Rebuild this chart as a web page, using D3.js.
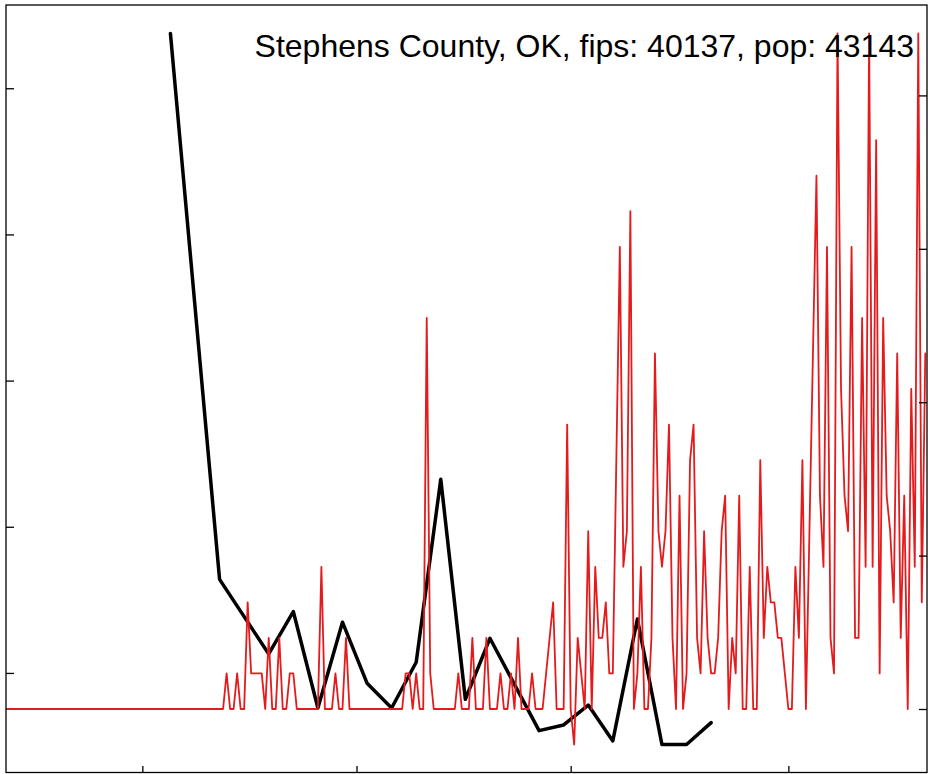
<!DOCTYPE html>
<html>
<head>
<meta charset="utf-8">
<script src="https://cdn.jsdelivr.net/npm/d3@7"></script>
<style>
  html, body { margin: 0; padding: 0; background: #fff; }
  svg { display: block; }
</style>
</head>
<body>
<svg id="chart" width="928" height="774"></svg>
<script>
// ---------------- data ----------------
const titleText = "Stephens County, OK, fips: 40137, pop: 43143";
const population = 43143;
const dailyStart = "2020-01-22";
// daily new cases, one per day starting 2020-01-22
const dailyCases = [
  0,0,0,0,0,0,0,0,0,0, 0,0,0,0,0,0,0,0,0,0,
  0,0,0,0,0,0,0,0,0,0, 0,0,0,0,0,0,0,0,0,0,
  0,0,0,0,0,0,0,0,0,0, 0,0,0,0,0,0,0,0,0,0,
  0,0,0,1,0,0,1,0,0,3, 1,1,1,1,0,2,0,0,2,0,
  0,1,1,0,0,0,0,0,0,0, 4,0,0,0,1,0,0,2,0,0,
  0,0,0,0,0,0,0,0,0,0, 0,0,0,0,1,1,0,1,0,0,
  11,1,0,0,0,0,0,0,0,1, 0,0,0,2,0,0,0,2,0,0,
  0,1,0,0,1,0,2,0,0,0, 1,0,0,0,1,2,3,0,0,0,
  8,0,-1,2,1,0,5,0,4,2, 2,3,1,1,7,13,4,5,14,0,
  1,4,0,0,2,10,5,4,5,8, 2,0,6,0,1,7,8,2,1,5,
  2,1,1,2,5,6,0,2,1,6, 0,0,4,0,0,7,2,4,3,3,
  2,2,1,0,0,4,2,7,0,5, 10,15,6,4,13,2,1,19,9,6,
  5,13,2,2,11,4,19,4,16,1, 11,6,5,3,10,2,6,0,9,4,
  19,3,10
];
// weekly series (left axis)
const weeklyDates = [
  "2020-03-09","2020-03-23","2020-04-06","2020-04-13","2020-04-20","2020-04-27",
  "2020-05-04","2020-05-11","2020-05-18","2020-05-25","2020-06-01","2020-06-08",
  "2020-06-22","2020-06-29","2020-07-06","2020-07-13","2020-07-20","2020-07-27",
  "2020-08-03","2020-08-10"
];
const weeklyValues = [
  4.375, 0.64, 0.13, 0.42, -0.24, 0.347,
  -0.07, -0.24, 0.073, 1.325, -0.18, 0.237,
  -0.395, -0.356, -0.22, -0.465, 0.369, -0.49,
  -0.49, -0.34
];
const xTickDates = ["2020-03-01","2020-05-01","2020-07-01","2020-09-01"];
const leftTicks = [0, 1, 2, 3, 4];
const rightTicks = [0, 10, 20, 30, 40];

// ---------------- layout ----------------
const W = 928, H = 774;
const plot = { left: 6, right: 927, top: 5, bottom: 773 };
const parse = d3.utcParse("%Y-%m-%d");

const start = parse(dailyStart);
const daily = dailyCases.map((c, i) => ({
  date: d3.utcDay.offset(start, i),
  v: c * 100000 / population
}));
const weekly = weeklyDates.map((d, i) => ({ date: parse(d), v: weeklyValues[i] }));

const svg = d3.select("#chart");

const xDomain = d3.extent(daily, d => d.date);
const x = d3.scaleUtc().domain(xDomain).range([5.4, 925.3]);

function padded(ext) {
  const r = ext[1] - ext[0];
  return [ext[0] - 0.04 * r, ext[1] + 0.04 * r];
}
const yR = d3.scaleLinear().domain(padded(d3.extent(daily, d => d.v))).range([plot.bottom, plot.top]);
const yL = d3.scaleLinear().domain(padded(d3.extent(weekly, d => d.v))).range([plot.bottom, plot.top]);

svg.append("defs").append("clipPath").attr("id", "clip")
  .append("rect").attr("x", plot.left).attr("y", plot.top)
  .attr("width", plot.right - plot.left).attr("height", plot.bottom - plot.top);

const g = svg.append("g").attr("clip-path", "url(#clip)");

g.append("path").datum(weekly)
  .attr("fill", "none").attr("stroke", "#000").attr("stroke-width", 3.5)
  .attr("stroke-linejoin", "round").attr("stroke-linecap", "round")
  .attr("d", d3.line().x(d => x(d.date)).y(d => yL(d.v)));

g.append("path").datum(daily)
  .attr("fill", "none").attr("stroke", "#e41a1c").attr("stroke-width", 1.8)
  .attr("stroke-linejoin", "round").attr("stroke-linecap", "round")
  .attr("d", d3.line().x(d => x(d.date)).y(d => yR(d.v)));

// axes (ticks pointing inward, no labels)
function styleAxis(sel) {
  sel.select(".domain").remove();
  sel.selectAll(".tick line").attr("stroke", "#000").attr("stroke-width", 1.3);
  sel.selectAll(".tick text").remove();
}
svg.append("g").attr("transform", `translate(${plot.left},0)`)
  .call(d3.axisLeft(yL).tickValues(leftTicks).tickSize(-8).tickFormat(() => ""))
  .call(styleAxis);
svg.append("g").attr("transform", `translate(${plot.right},0)`)
  .call(d3.axisRight(yR).tickValues(rightTicks).tickSize(-8).tickFormat(() => ""))
  .call(styleAxis);
svg.append("g").attr("transform", `translate(0,${plot.bottom})`)
  .call(d3.axisBottom(x).tickValues(xTickDates.map(parse)).tickSize(-7).tickFormat(() => ""))
  .call(styleAxis);

// frame
svg.append("rect")
  .attr("x", plot.left).attr("y", plot.top)
  .attr("width", plot.right - plot.left).attr("height", plot.bottom - plot.top - 0.5)
  .attr("fill", "none").attr("stroke", "#000").attr("stroke-width", 1.3);

// title
svg.append("text")
  .attr("x", 914).attr("y", 57)
  .attr("text-anchor", "end")
  .attr("font-family", "'Liberation Sans', Arial, Helvetica, sans-serif")
  .attr("font-size", 32)
  .attr("fill", "#000")
  .text(titleText);
</script>
</body>
</html>
